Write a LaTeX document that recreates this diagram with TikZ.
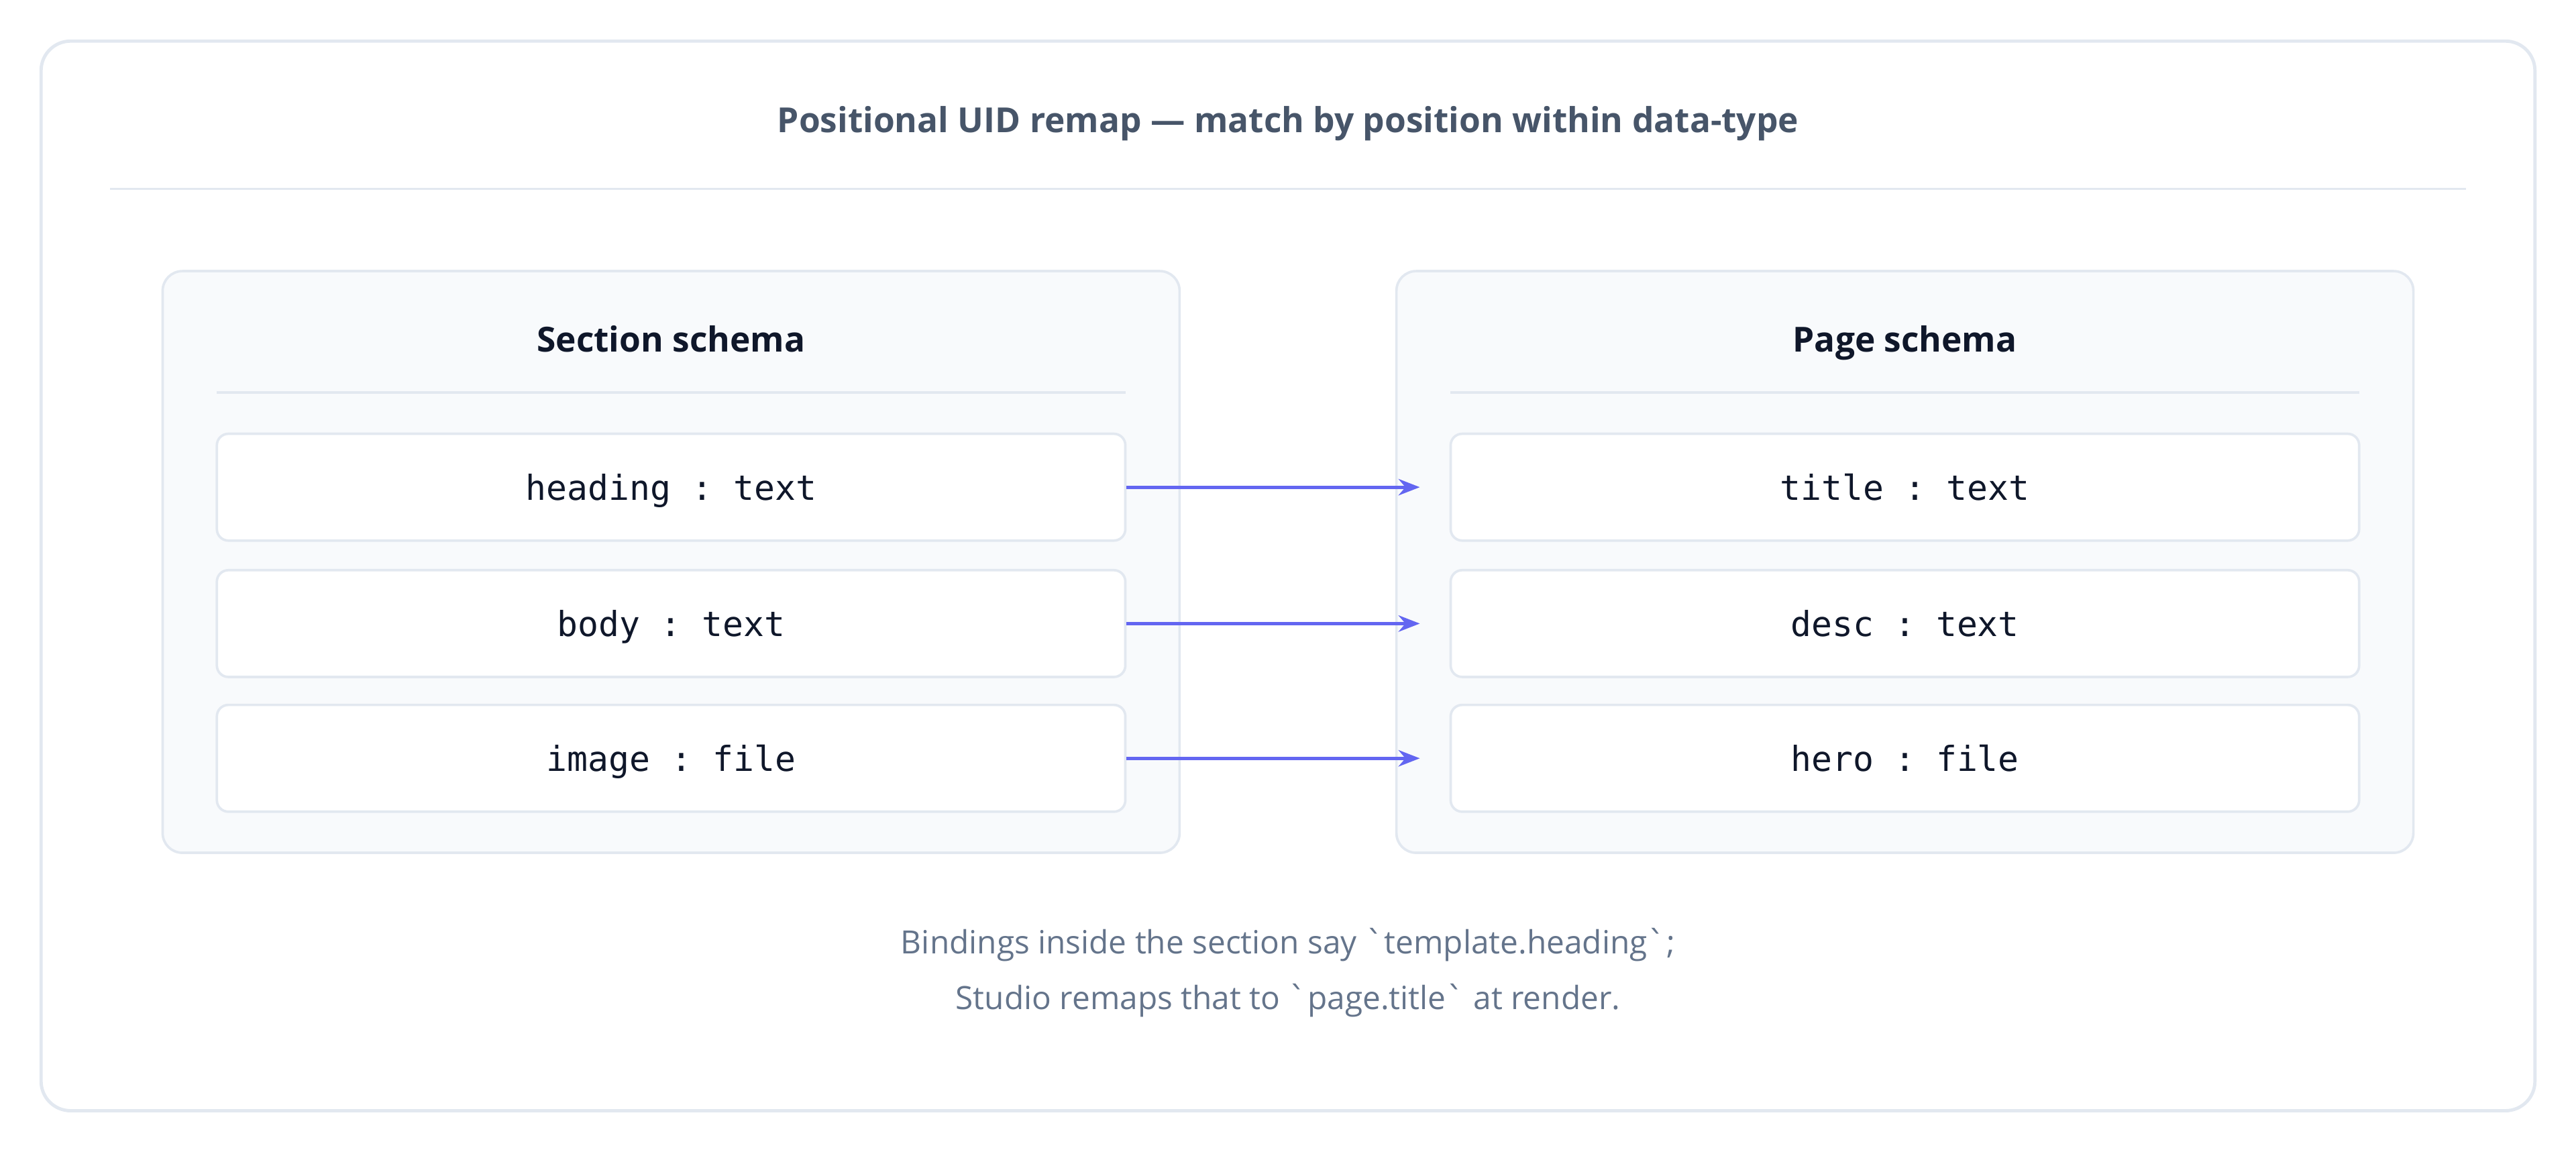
\documentclass[tikz,border=0pt]{standalone}
\usepackage{fontspec}
\setmainfont{Open Sans}
\setmonofont{DejaVu Sans Mono}
\usetikzlibrary{arrows.meta}
\definecolor{bord}{HTML}{E2E8F0}
\definecolor{titc}{HTML}{475569}
\definecolor{pfill}{HTML}{F8FAFC}
\definecolor{arr}{HTML}{6366F1}
\definecolor{capc}{HTML}{64748B}
\definecolor{head}{HTML}{0F172A}
\newcommand\btk{{\ttfamily\symbol{96}}}
\begin{document}
\begin{tikzpicture}[x=1pt,y=-1pt,
  panel/.style={draw=bord,line width=1.5pt,fill=pfill,rounded corners=12pt},
  row/.style={draw=bord,line width=1.5pt,fill=white,rounded corners=7pt,minimum width=553pt,minimum height=65pt,font=\ttfamily\fontsize{21}{24}\selectfont,text=head},
  ptitle/.style={font=\bfseries\fontsize{21}{24}\selectfont,text=head},
  link/.style={draw=arr,line width=2pt,-{Stealth[length=13pt,width=10pt]}}]
\useasboundingbox (0,0) rectangle (1568,701);
\draw[draw=bord,line width=2pt,fill=white,rounded corners=18pt] (25,25) rectangle (1543,676);
\node[font=\fontsize{21}{24}\selectfont\bfseries,text=titc] (title) at (784,75) {Positional UID remap — match by position within data-type};
\draw[bord,line width=1.5pt] (67,115) -- (1501,115);
\draw[panel] (99,165) rectangle (718,519);
\draw[panel] (850,165) rectangle (1469,519);
\node[ptitle,anchor=base] (lt) at (408.5,214) {Section schema};
\node[ptitle,anchor=base] (rt) at (1159.5,214) {Page schema};
\draw[bord,line width=1.5pt] (132,239) -- (685,239);
\draw[bord,line width=1.5pt] (883,239) -- (1436,239);
\node[row,text depth=0pt] (l1) at (408.5,296.5) {heading : text};
\node[row,text depth=0pt] (l2) at (408.5,379.5) {body : text};
\node[row,text depth=0pt] (l3) at (408.5,461.5) {image : file};
\node[row,text depth=0pt] (r1) at (1159.5,296.5) {title : text};
\node[row,text depth=0pt] (r2) at (1159.5,379.5) {desc : text};
\node[row,text depth=0pt] (r3) at (1159.5,461.5) {hero : file};
\draw[link] (l1.east) -- ([xshift=-18pt]r1.west);
\draw[link] (l2.east) -- ([xshift=-18pt]r2.west);
\draw[link] (l3.east) -- ([xshift=-18pt]r3.west);
\node[font=\fontsize{19.5}{34}\selectfont,text=capc,align=center] (cap) at (784,592) {Bindings inside the section say \btk template.heading\btk;\\Studio remaps that to \btk page.title\btk{} at render.};
\end{tikzpicture}
\end{document}
